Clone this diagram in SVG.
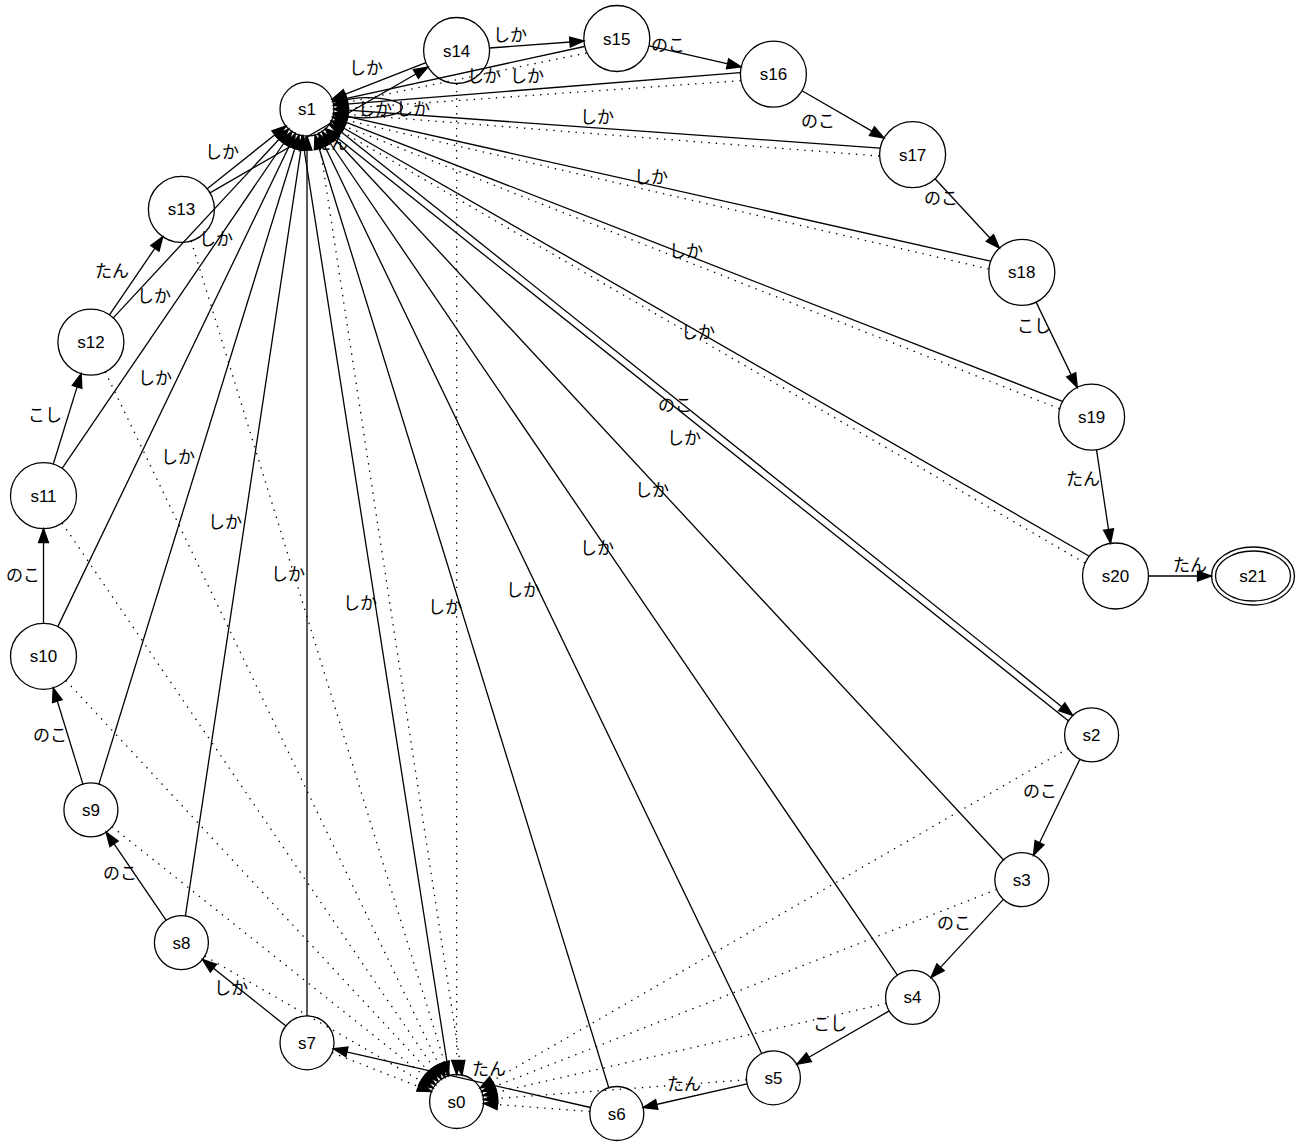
<svg xmlns="http://www.w3.org/2000/svg" width="1300" height="1146" viewBox="0 0 1300 1146">
<style>
.e{stroke:#000;stroke-width:1.3;fill:none}
.d{stroke-dasharray:1.4,6}
.n circle,.n ellipse{fill:none;stroke:#000;stroke-width:1.3}
.n text{font-family:"Liberation Sans",Arial,sans-serif;font-size:17px;text-anchor:middle;fill:#000}
.lb text{font-family:"Noto Sans CJK JP","Liberation Sans",sans-serif;font-size:17px;text-anchor:middle;fill:#000}
</style>
<defs>
<marker id="a" markerUnits="userSpaceOnUse" markerWidth="16" markerHeight="12" refX="14" refY="5" orient="auto" overflow="visible">
<path d="M0,0 L14,5 L0,10 z" fill="#000" stroke="#000" stroke-width="1.3" stroke-dasharray="none"/>
</marker>
</defs>
<rect width="1300" height="1146" fill="#fff"/>
<g class="lb"><text x="331" y="149">たん</text></g>
<g id="connectors">
<!-- solid しか edges to s1 -->
<path class="e" d="M449,1075 L302,136" marker-end="url(#a)"/>
<path class="e" d="M1068.3,720.8 L325.9,128.7" marker-end="url(#a)"/>
<path class="e" d="M1004.1,860.5 L325.4,129.0" marker-end="url(#a)"/>
<path class="e" d="M897.4,975.1 L322.2,131.5" marker-end="url(#a)"/>
<path class="e" d="M761.7,1053.5 L318.7,133.5" marker-end="url(#a)"/>
<path class="e" d="M608.8,1087.7 L315.0,135.0" marker-end="url(#a)"/>
<path class="e" d="M307,1015.8 L307,136.2" marker-end="url(#a)"/>
<path class="e" d="M185.4,915.9 L303.0,135.9" marker-end="url(#a)"/>
<path class="e" d="M98.9,784.1 L299.0,135.0" marker-end="url(#a)"/>
<path class="e" d="M57.8,626.6 L295.3,133.5" marker-end="url(#a)"/>
<path class="e" d="M62.1,468.4 L291.8,131.5" marker-end="url(#a)"/>
<path class="e" d="M113.3,317.9 L288.6,129.0" marker-end="url(#a)"/>
<path class="e" d="M207.2,188.8 L285.9,126.0" marker-end="url(#a)"/>
<path class="e" d="M425.9,62.6 L332.1,99.3" marker-end="url(#a)"/>
<path class="e" d="M584.5,46.5 L332.9,101.3" marker-end="url(#a)"/>
<path class="e" d="M740.2,72.7 L333.8,105.2" marker-end="url(#a)"/>
<path class="e" d="M880.0,148.1 L334.0,109.2" marker-end="url(#a)"/>
<path class="e" d="M990.5,261.2 L333.7,113.3" marker-end="url(#a)"/>
<path class="e" d="M1062.4,401.3 L332.8,117.2" marker-end="url(#a)"/>
<path class="e" d="M1088.9,556.0 L331.4,121.0" marker-end="url(#a)"/>
<path class="e" d="M333.5,103.5 C365,92 408,100 402,109 C398,117 362,121 333.8,114.5" marker-end="url(#a)"/>
<!-- dotted edges to s1 -->
<path class="e d" d="M586.5,53 L333.7,105.1" marker-end="url(#a)"/>
<path class="e d" d="M740.8,80.7 L334.0,109.2" marker-end="url(#a)"/>
<path class="e d" d="M879.4,156.1 L333.8,113.2" marker-end="url(#a)"/>
<path class="e d" d="M988.7,269.0 L332.9,117.1" marker-end="url(#a)"/>
<path class="e d" d="M1059.4,408.7 L331.4,121.0" marker-end="url(#a)"/>
<path class="e d" d="M1084.9,563.0 L329.4,124.4" marker-end="url(#a)"/>
<!-- dotted edges to s0 -->
<path class="e d" d="M318,134 L462,1075" marker-end="url(#a)"/>
<path class="e d" d="M1068.2,748.4 L480.0,1088.0" marker-end="url(#a)"/>
<path class="e d" d="M996.7,889.5 L481.7,1091.6" marker-end="url(#a)"/>
<path class="e d" d="M886.3,1003.4 L482.9,1095.5" marker-end="url(#a)"/>
<path class="e d" d="M746.5,1079.8 L483.5,1099.5" marker-end="url(#a)"/>
<path class="e d" d="M589.9,1111.5 L483.5,1103.5" marker-end="url(#a)"/>
<path class="e d" d="M332.1,1052.7 L431.5,1091.6" marker-end="url(#a)"/>
<path class="e d" d="M204.8,956.1 L433.2,1088.0" marker-end="url(#a)"/>
<path class="e d" d="M112.0,826.7 L435.5,1084.7" marker-end="url(#a)"/>
<path class="e d" d="M65.9,680.5 L438.2,1081.7" marker-end="url(#a)"/>
<path class="e d" d="M62.1,523.0 L441.4,1079.2" marker-end="url(#a)"/>
<path class="e d" d="M105.2,371.8 L444.9,1077.2" marker-end="url(#a)"/>
<path class="e d" d="M191.1,240.9 L448.6,1075.7" marker-end="url(#a)"/>
<path class="e d" d="M456.6,83.5 L456.6,1074.5" marker-end="url(#a)"/>
<!-- forward chain -->
<path class="e" d="M330.3,123.3 L1072.7,715.4" marker-end="url(#a)"/>
<path class="e" d="M1079.9,759.2 L1033.5,855.3" marker-end="url(#a)"/>
<path class="e" d="M1003.4,899.4 L931.0,977.6" marker-end="url(#a)"/>
<path class="e" d="M889.2,1010.9 L796.8,1064.3" marker-end="url(#a)"/>
<path class="e" d="M747.1,1083.8 L643.1,1107.5" marker-end="url(#a)"/>
<path class="e" d="M590.5,1107.5 L333.3,1048.8" marker-end="url(#a)"/>
<path class="e" d="M285.9,1026.0 L202.5,959.4" marker-end="url(#a)"/>
<path class="e" d="M166.2,920.3 L106.1,832.2" marker-end="url(#a)"/>
<path class="e" d="M82.9,784.1 L53.2,687.8" marker-end="url(#a)"/>
<path class="e" d="M43.5,623.3 L43.5,528.7" marker-end="url(#a)"/>
<path class="e" d="M53.2,464.2 L81.2,373.6" marker-end="url(#a)"/>
<path class="e" d="M109.5,314.8 L162.8,236.7" marker-end="url(#a)"/>
<path class="e" d="M210.0,192.9 L428.0,67.0" marker-end="url(#a)"/>
<path class="e" d="M489.5,48.0 L583.9,41.0" marker-end="url(#a)"/>
<path class="e" d="M649.0,45.8 L741.2,66.9" marker-end="url(#a)"/>
<path class="e" d="M802.0,90.7 L884.0,138.1" marker-end="url(#a)"/>
<path class="e" d="M935.0,178.8 L999.4,248.2" marker-end="url(#a)"/>
<path class="e" d="M1036.1,302.1 L1077.3,387.4" marker-end="url(#a)"/>
<path class="e" d="M1096.5,449.7 L1110.6,543.4" marker-end="url(#a)"/>
<path class="e" d="M1148.5,576 L1211.5,576" marker-end="url(#a)"/>
</g>
<g class="lb">
<text x="366" y="74">しか</text>
<text x="510" y="41">しか</text>
<text x="484" y="82">しか</text>
<text x="527" y="82">しか</text>
<text x="375" y="115">しか</text>
<text x="413" y="115">しか</text>
<text x="597" y="123">しか</text>
<text x="668" y="51">のこ</text>
<text x="818" y="127">のこ</text>
<text x="941" y="204">のこ</text>
<text x="651" y="183">しか</text>
<text x="686" y="257">しか</text>
<text x="698" y="338">しか</text>
<text x="1034" y="332">こし</text>
<text x="1083" y="485">たん</text>
<text x="1190" y="571">たん</text>
<text x="675" y="411">のこ</text>
<text x="684" y="444">しか</text>
<text x="652" y="496">しか</text>
<text x="597" y="554">しか</text>
<text x="523" y="596">しか</text>
<text x="445" y="613">しか</text>
<text x="360" y="609">しか</text>
<text x="288" y="580">しか</text>
<text x="225" y="528">しか</text>
<text x="178" y="463">しか</text>
<text x="155" y="384">しか</text>
<text x="154" y="302">しか</text>
<text x="216" y="245">しか</text>
<text x="222" y="158">しか</text>
<text x="112" y="277">たん</text>
<text x="45" y="421">こし</text>
<text x="23" y="581">のこ</text>
<text x="50" y="741">のこ</text>
<text x="120" y="879">のこ</text>
<text x="231" y="994">しか</text>
<text x="489" y="1075">たん</text>
<text x="684" y="1090">たん</text>
<text x="830" y="1030">こし</text>
<text x="954" y="929">のこ</text>
<text x="1040" y="797">のこ</text>
</g>
<g id="s0" class="n"><circle cx="456.6" cy="1101.5" r="27"/><text x="456.6" y="1107.5">s0</text></g>
<g id="s1" class="n"><circle cx="307" cy="109.2" r="27"/><text x="307" y="115.2">s1</text></g>
<g id="s2" class="n"><circle cx="1091.6" cy="734.9" r="27"/><text x="1091.6" y="740.9">s2</text></g>
<g id="s3" class="n"><circle cx="1021.8" cy="879.6" r="27"/><text x="1021.8" y="885.6">s3</text></g>
<g id="s4" class="n"><circle cx="912.6" cy="997.4" r="27"/><text x="912.6" y="1003.4">s4</text></g>
<g id="s5" class="n"><circle cx="773.4" cy="1077.8" r="27"/><text x="773.4" y="1083.8">s5</text></g>
<g id="s6" class="n"><circle cx="616.8" cy="1113.5" r="27"/><text x="616.8" y="1119.5">s6</text></g>
<g id="s7" class="n"><circle cx="307" cy="1042.8" r="27"/><text x="307" y="1048.8">s7</text></g>
<g id="s8" class="n"><circle cx="181.4" cy="942.6" r="27"/><text x="181.4" y="948.6">s8</text></g>
<g id="s9" class="n"><circle cx="90.9" cy="809.9" r="27"/><text x="90.9" y="815.9">s9</text></g>
<g id="s10" class="n"><circle cx="43.5" cy="656.3" r="33"/><text x="43.5" y="662.3">s10</text></g>
<g id="s11" class="n"><circle cx="43.5" cy="495.7" r="33"/><text x="43.5" y="501.7">s11</text></g>
<g id="s12" class="n"><circle cx="90.9" cy="342.1" r="33"/><text x="90.9" y="348.1">s12</text></g>
<g id="s13" class="n"><circle cx="181.4" cy="209.4" r="33"/><text x="181.4" y="215.4">s13</text></g>
<g id="s14" class="n"><circle cx="456.6" cy="50.5" r="33"/><text x="456.6" y="56.5">s14</text></g>
<g id="s15" class="n"><circle cx="616.8" cy="38.5" r="33"/><text x="616.8" y="44.5">s15</text></g>
<g id="s16" class="n"><circle cx="773.4" cy="74.2" r="33"/><text x="773.4" y="80.2">s16</text></g>
<g id="s17" class="n"><circle cx="912.6" cy="154.6" r="33"/><text x="912.6" y="160.6">s17</text></g>
<g id="s18" class="n"><circle cx="1021.8" cy="272.4" r="33"/><text x="1021.8" y="278.4">s18</text></g>
<g id="s19" class="n"><circle cx="1091.6" cy="417.1" r="33"/><text x="1091.6" y="423.1">s19</text></g>
<g id="s20" class="n"><circle cx="1115.5" cy="576" r="33"/><text x="1115.5" y="582">s20</text></g>
<g id="s21" class="n"><ellipse cx="1253" cy="576" rx="41.5" ry="29"/><ellipse cx="1253" cy="576" rx="37.5" ry="25"/><text x="1253" y="582">s21</text></g>
</svg>
